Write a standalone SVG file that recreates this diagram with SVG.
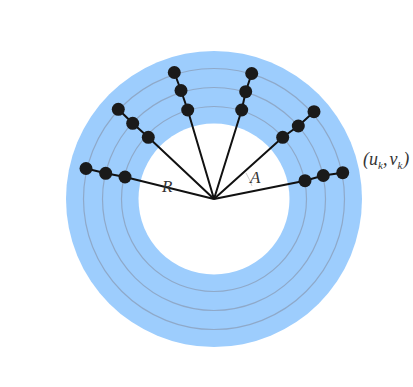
<svg xmlns="http://www.w3.org/2000/svg" width="413" height="387" viewBox="0 0 413 387">
<style>
.ring{fill:none;stroke:#8fa9c9;stroke-width:1.2}
.ray{fill:none;stroke:#111;stroke-width:2}
.dot{fill:#1a1a1a}
.lbl{font-family:"Liberation Serif",serif;font-style:italic;fill:#333}
</style>
<rect width="413" height="387" fill="#fff"/>
<g id="annulus">
<circle cx="214" cy="199" r="148" fill="#9dcdfd"/>
<circle class="ring" cx="214" cy="199" r="130.5"/>
<circle class="ring" cx="214" cy="199" r="111.5"/>
<circle class="ring" cx="214" cy="199" r="92.5"/>
<circle cx="214" cy="199" r="75.5" fill="#fff"/>
</g>
<g id="connectors">
<polyline class="ray" points="214,199 125,177 105.7,173.3 86,168.5"/>
<polyline class="ray" points="214,199 148.3,137.3 132.7,123.3 118.3,109.3"/>
<polyline class="ray" points="214,199 187.7,110 181,90.5 174.3,72.5"/>
<polyline class="ray" points="214,199 241.7,110 245.7,91.7 251.7,73.5"/>
<polyline class="ray" points="214,199 282.7,137.3 298.3,126 314,111.7"/>
<polyline class="ray" points="214,199 305,180.7 323.3,175.5 342.7,172.7"/>
<path d="M246,173 Q250,180 252,186" fill="none" stroke="#ccc" stroke-width="1"/>
</g>
<g id="nodes">
<circle class="dot" cx="125" cy="177" r="6.5"/>
<circle class="dot" cx="105.7" cy="173.3" r="6.5"/>
<circle class="dot" cx="86" cy="168.5" r="6.5"/>
<circle class="dot" cx="148.3" cy="137.3" r="6.5"/>
<circle class="dot" cx="132.7" cy="123.3" r="6.5"/>
<circle class="dot" cx="118.3" cy="109.3" r="6.5"/>
<circle class="dot" cx="187.7" cy="110" r="6.5"/>
<circle class="dot" cx="181" cy="90.5" r="6.5"/>
<circle class="dot" cx="174.3" cy="72.5" r="6.5"/>
<circle class="dot" cx="241.7" cy="110" r="6.5"/>
<circle class="dot" cx="245.7" cy="91.7" r="6.5"/>
<circle class="dot" cx="251.7" cy="73.5" r="6.5"/>
<circle class="dot" cx="282.7" cy="137.3" r="6.5"/>
<circle class="dot" cx="298.3" cy="126" r="6.5"/>
<circle class="dot" cx="314" cy="111.7" r="6.5"/>
<circle class="dot" cx="305" cy="180.7" r="6.5"/>
<circle class="dot" cx="323.3" cy="175.5" r="6.5"/>
<circle class="dot" cx="342.7" cy="172.7" r="6.5"/>
</g>
<g id="labels">
<text class="lbl" x="162" y="192" font-size="17">R</text>
<text class="lbl" x="250" y="183" font-size="17">A</text>
<text class="lbl" x="363" y="165" font-size="18">(u<tspan font-size="11" dy="4">k</tspan><tspan dy="-4">,</tspan><tspan dx="2">v</tspan><tspan font-size="11" dy="4">k</tspan><tspan dy="-4" dx="1">)</tspan></text>
</g>
</svg>
